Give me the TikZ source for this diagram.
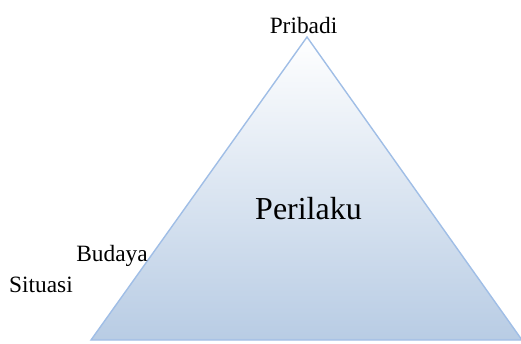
\documentclass[tikz,border=0pt]{standalone}
\usepackage{fontspec}
\setmainfont{Liberation Serif}
\begin{document}
\begin{tikzpicture}[
                x=0.02cm, y=-0.02cm,
                % Stile per il triangolo
                piramide/.style={
                    draw={rgb,255:red,160;green,190;blue,230},
                    line width=0.8pt,
                    top color=white,
                    bottom color={rgb,255:red,184;green,204;blue,228}
                },
                % Stile per le etichette
                etichetta/.style={
                    font=\fontsize{13.3}{15}\selectfont,
                    anchor=base,
                    inner sep=0pt
                }
            ]

                % --- Area del disegno ---
                \useasboundingbox (0,0) rectangle (521,343);

                % --- Vertici del triangolo ---
                \coordinate (A) at (307,37);
                \coordinate (L) at (91,340);
                \coordinate (R) at (522,340);
                \draw[piramide] (A) -- (L) -- (R) -- cycle;

                % --- Testi ---
                \node[etichetta] (pribadi) at (303.5,33) {Pribadi};
                \node[etichetta, font=\fontsize{18.2}{20}\selectfont] (perilaku) at (308.5,219) {Perilaku};
                \node[etichetta] (budaya) at (112,261) {Budaya};
                \node[etichetta] (situasi) at (41,292) {Situasi};

            \end{tikzpicture}
\end{document}
